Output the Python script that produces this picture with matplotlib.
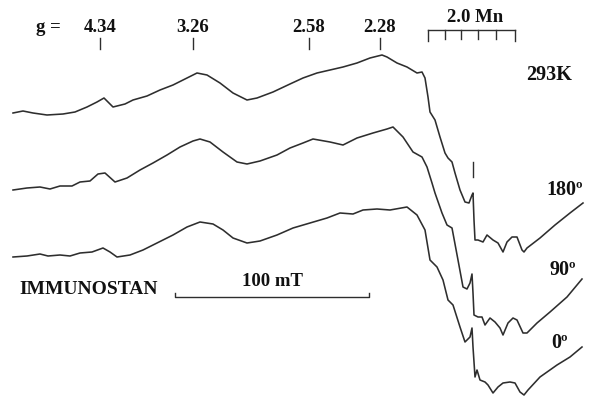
import matplotlib
matplotlib.use("Agg")
import matplotlib.pyplot as plt

# ---------------------------------------------------------------------------
# traces (x = field position, y = signal, screen units)
field_293 = [13, 23, 33, 47, 63, 75, 87, 97, 104, 108, 113, 125, 133, 147, 160, 173, 187, 197,
             207, 220, 233, 247, 257, 273, 290, 303, 317, 330, 343, 357, 370, 382, 387, 397, 407,
             417, 422, 425, 428, 430, 435, 440, 445, 448, 452, 455, 460, 465, 469, 472, 473, 474,
             475, 478, 483, 487, 493, 498, 503, 507, 512, 517, 522, 524, 527, 540, 555, 570, 583]
sig_293 = [113, 111, 113, 115, 114, 112, 107, 102, 98, 102, 107, 104, 100, 96, 90, 85, 78, 73,
           75, 83, 93, 100, 98, 92, 84, 78, 73, 70, 67, 63, 58, 55, 57, 63, 67,
           73, 72, 78, 97, 112, 120, 137, 153, 158, 162, 173, 190, 202, 203, 195, 193, 220,
           240, 240, 242, 235, 240, 243, 252, 242, 237, 237, 250, 252, 248, 238, 225, 213, 203]

field_180 = [13, 27, 40, 50, 60, 72, 80, 90, 98, 105, 115, 127, 140, 153, 167, 180, 193, 200,
             210, 223, 237, 247, 260, 277, 290, 303, 313, 330, 343, 357, 373, 387, 393, 403, 413,
             422, 427, 432, 435, 442, 447, 452, 458, 463, 467, 470, 472, 473, 474, 478, 482, 485,
             490, 495, 500, 503, 508, 513, 517, 523, 527, 537, 550, 567, 582]
sig_180 = [190, 188, 187, 189, 186, 186, 182, 181, 174, 173, 182, 178, 170, 163, 155, 147, 141, 139,
           142, 152, 162, 164, 161, 155, 148, 143, 139, 142, 145, 138, 133, 129, 127, 137, 152,
           157, 167, 183, 193, 213, 225, 228, 260, 287, 289, 283, 274, 293, 315, 317, 317, 325,
           318, 322, 328, 335, 323, 318, 320, 333, 333, 323, 312, 297, 279]

field_0 = [13, 27, 40, 48, 60, 70, 80, 92, 103, 110, 117, 130, 143, 157, 173, 187, 200,
           213, 223, 233, 247, 260, 277, 293, 310, 327, 340, 353, 363, 377, 390, 407, 417,
           425, 430, 437, 443, 448, 453, 460, 465, 470, 472, 473, 475, 477, 480, 485, 488,
           493, 498, 503, 510, 515, 520, 524, 528, 540, 557, 570, 582]
sig_0 = [257, 256, 254, 256, 255, 256, 253, 252, 248, 252, 257, 255, 250, 243, 235, 227, 222,
         224, 230, 238, 243, 241, 235, 228, 223, 218, 213, 214, 210, 209, 210, 207, 215,
         230, 260, 267, 280, 300, 305, 327, 342, 337, 328, 347, 377, 370, 380, 382, 385,
         393, 387, 383, 382, 383, 392, 395, 390, 377, 365, 357, 347]

g_values = ["4.34", "3.26", "2.58", "2.28"]
g_pos = [100, 193, 309, 380]
mn_ticks = [428, 445, 461, 478, 496, 515]

traces = [(field_293, sig_293), (field_180, sig_180), (field_0, sig_0)]
labels = ["180º", "90º", "0º"]
label_pos = [(565, 190), (563, 270), (560, 343)]

################################################################################
fig = plt.figure(figsize=(5.89, 3.97), dpi=100)
ax = fig.add_axes([0, 0, 1, 1])
ax.set_xlim(0, 589)
ax.set_ylim(397, 0)
ax.axis("off")

ink = "#2e2e2e"
txt = dict(family="Liberation Serif", weight="bold", color="#111111")

for fx, sy in traces:
    ax.plot(fx, sy, color=ink, lw=1.15, solid_joinstyle="round")

# g-value markers
ax.text(48, 28, "g =", fontsize=13.5, ha="center", va="center", **txt)
for lab, xp in zip(g_values, g_pos):
    ax.text(xp, 28, lab, fontsize=13.5, ha="center", va="center", **txt)
    ax.plot([xp, xp], [38, 49], color=ink, lw=1.0)

# Mn hyperfine comb
ax.text(475, 17, "2.0 Mn", fontsize=13.5, ha="center", va="center", **txt)
ax.plot([mn_ticks[0], mn_ticks[-1]], [30, 30], color=ink, lw=1.0)
for i, xp in enumerate(mn_ticks):
    bottom = 41 if i in (0, len(mn_ticks) - 1) else 39
    ax.plot([xp, xp], [30, bottom], color=ink, lw=1.0)

ax.text(549, 75, "293K", fontsize=14.5, ha="center", va="center", **txt)
ax.plot([473, 473], [162, 177], color=ink, lw=1.0)

for lab, (xp, yp) in zip(labels, label_pos):
    ax.text(xp, yp, lab, fontsize=14.5, ha="center", va="center", **txt)

# field scale bar
ax.text(89, 290, "IMMUNOSTAN", fontsize=14, ha="center", va="center", **txt)
ax.text(272, 282, "100 mT", fontsize=13.5, ha="center", va="center", **txt)
ax.plot([175, 175, 369, 369], [293, 297, 297, 293], color=ink, lw=1.0)

fig.savefig("out.png", dpi=100, facecolor="white")
